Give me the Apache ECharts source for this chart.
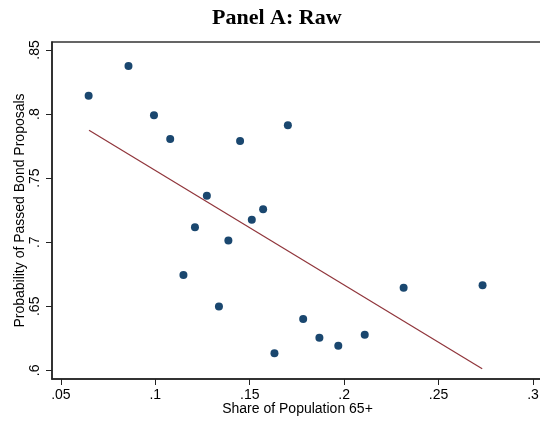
<!DOCTYPE html>
<html>
<head>
<meta charset="utf-8">
<script src="https://cdn.jsdelivr.net/npm/echarts@6/dist/echarts.min.js"></script>
<style>
  html, body { margin: 0; padding: 0; background: #fff; }
  #chart { width: 540px; height: 421px; }
</style>
</head>
<body>
<div id="chart"></div>
<script>
// share of population 65+ (x) and probability of passed bond proposals (y)
const shareOld = [0.0647, 0.0858, 0.0993, 0.1079, 0.1449, 0.1702, 0.1273, 0.1210, 0.1387, 0.1511,
  0.1571, 0.1149, 0.1337, 0.1631, 0.1783, 0.1869, 0.1969, 0.2109, 0.2315, 0.2733]
const passProb = [0.8143, 0.8374, 0.7990, 0.7806, 0.7790, 0.7912, 0.7363, 0.7116, 0.7013, 0.7176,
  0.7257, 0.6745, 0.6498, 0.6133, 0.6401, 0.6255, 0.6193, 0.6278, 0.6645, 0.6665]

// fitted line end points
const fitX = [0.0649, 0.2731]
const fitY = [0.7873, 0.6013]

const xTicks = [0.05, 0.1, 0.15, 0.2, 0.25, 0.3]
const yTicks = [0.6, 0.65, 0.7, 0.75, 0.8, 0.85]

const fmt = (v) => String(+v.toFixed(2)).replace(/^0/, '')

const chart = echarts.init(document.getElementById('chart'))

const font = 'Liberation Sans, Arial, Helvetica, sans-serif'

const option = {
  animation: false,
  backgroundColor: '#fff',
  title: {
    text: 'Panel A: Raw',
    left: 207,
    top: 2,
    textStyle: {
      fontFamily: 'Liberation Serif, Times New Roman, serif',
      fontWeight: 'bold',
      fontSize: 22,
      color: '#000'
    }
  },
  // right edge of the frame is cut off in the original, push it off canvas
  grid: {
    left: 52,
    right: -3,
    top: 42,
    bottom: 42,
    outerBoundsMode: 'none',
    containLabel: false,
    show: true,
    borderColor: '#333',
    borderWidth: 1.5
  },
  xAxis: {
    type: 'value',
    min: 0.0453,
    max: 0.3053,
    name: 'Share of Population 65+',
    nameLocation: 'middle',
    nameGap: 23,
    nameMoveOverlap: false,
    nameTextStyle: { fontFamily: font, fontSize: 14, color: '#000' },
    splitLine: { show: false },
    axisLine: { show: true, lineStyle: { color: '#222', width: 1.5 } },
    axisTick: { show: true, length: 6, lineStyle: { color: '#222' }, customValues: xTicks },
    axisLabel: {
      customValues: xTicks,
      formatter: fmt,
      margin: 9,
      fontFamily: font,
      fontSize: 14,
      color: '#000'
    }
  },
  yAxis: {
    type: 'value',
    min: 0.5933,
    max: 0.8562,
    name: 'Probability of Passed Bond Proposals',
    nameLocation: 'middle',
    nameGap: 25,
    nameMoveOverlap: false,
    nameTextStyle: { fontFamily: font, fontSize: 14, color: '#000' },
    splitLine: { show: false },
    axisLine: { show: true, lineStyle: { color: '#222', width: 1.5 } },
    axisTick: { show: true, length: 6, lineStyle: { color: '#222' }, customValues: yTicks },
    axisLabel: {
      customValues: yTicks,
      formatter: fmt,
      rotate: 90,
      margin: 10,
      fontFamily: font,
      fontSize: 14,
      color: '#000'
    }
  },
  series: [
    {
      name: 'Raw',
      type: 'scatter',
      symbol: 'circle',
      symbolSize: 8,
      itemStyle: { color: '#1a476f', opacity: 1 },
      data: shareOld.map((x, i) => [x, passProb[i]]),
      z: 3
    },
    {
      name: 'Fit',
      type: 'line',
      symbol: 'none',
      lineStyle: { color: '#90353b', width: 1.2 },
      data: fitX.map((x, i) => [x, fitY[i]]),
      z: 2
    }
  ]
}

chart.setOption(option)
</script>
</body>
</html>
